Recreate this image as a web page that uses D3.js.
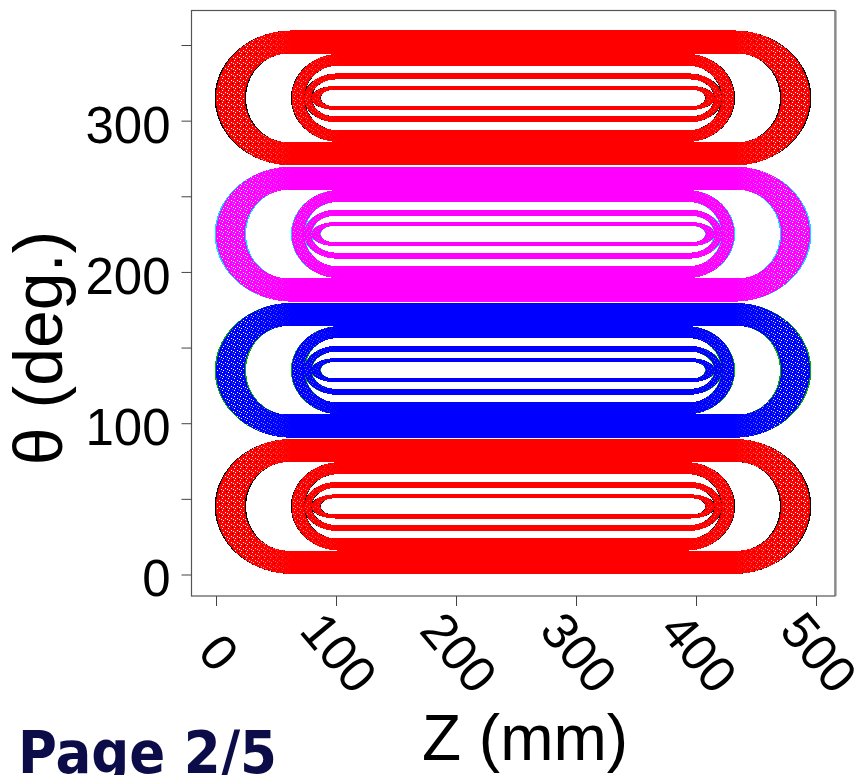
<!DOCTYPE html>
<html lang="en">
<head>
<meta charset="UTF-8" />
<title>Coil layout theta vs Z</title>
<script src="https://d3js.org/d3.v7.min.js"></script>
<style>
    body {
        margin: 0;
        background: #fff;
        overflow: hidden;
    }
    svg {
        display: block;
    }
    .coil path {
        shape-rendering: crispEdges;
    }
    .tick line {
        stroke: #444;
    }
    .tick text {
        font-family: "Liberation Sans", Arial, sans-serif;
        fill: #000;
    }
</style>
</head>
<body>
<script>
    // coils: centre angle, main colour and the colour that shows through at the ends
    const coilCenters = [45, 135, 225, 315];
    const coilColors = ['#ff0000', '#0000ff', '#ff00ff', '#ff0000'];
    const coilShades = ['#000000', '#00b000', '#00e0ff', '#000000'];

    // winding blocks of one coil (deg / mm)
    // each block: [outer edge, inner edge]
    const blockHalfWidth = [[44.6, 29.2], [29.2, 21.2], [16.2, 12.2], [8.0, 5.3]];
    const blockStraightStart = [[63, 60], [103, 101], [101, 100], [100, 98]];
    const blockTipZ = [[0, 24], [63, 73.5], [73.5, 79.5], [79.5, 87]];
    const blockShadeOffset = [1.1, 0.6, 0.5, 0.5];
    const coilMidZ = 247.5;

    const zTicks = [0, 100, 200, 300, 400, 500];
    const thetaTicks = [0, 50, 100, 150, 200, 250, 300, 350];

    const width = 863, height = 775;
    const frame = { left: 191.5, top: 10.5, right: 835, bottom: 596 };

    const svg = d3.select('body').append('svg').attr('width', width).attr('height', height);

    const x = d3.scaleLinear().domain([0, 500]).range([216, 816]);
    const y = d3.scaleLinear().domain([0, 350]).range([574.5, 45]);

    const line = d3.line().x(d => x(d[0])).y(d => y(d[1]));

    // one racetrack turn: straight sides at tc +- h, elliptic ends out to the tip
    function racetrack(tc, h, zs, tip) {
        const ze = 2 * coilMidZ - zs;
        const tipR = 2 * coilMidZ - tip;
        const pts = [];
        const n = 60;
        pts.push([zs, tc + h]);
        for (let i = 0; i <= n; i++) {
            const t = Math.PI * i / n;
            pts.push([ze + (tipR - ze) * Math.sin(t), tc + h * Math.cos(t)]);
        }
        pts.push([zs, tc - h]);
        for (let i = 0; i <= n; i++) {
            const t = Math.PI * i / n;
            pts.push([zs - (zs - tip) * Math.sin(t), tc - h * Math.cos(t)]);
        }
        return line(pts) + 'Z';
    }

    function blockPath(tc, b, grow) {
        const [hOut, hIn] = blockHalfWidth[b];
        const [sOut, sIn] = blockStraightStart[b];
        const [tOut, tIn] = blockTipZ[b];
        return racetrack(tc, hOut, sOut, tOut - grow) +
            racetrack(tc, hIn, sIn, tIn + grow);
    }

    const defs = svg.append('defs');

    // sparse stipple on the end turns (turns are not packed there)
    coilShades.forEach((shade, i) => {
        const p = defs.append('pattern')
            .attr('id', 'stip' + i)
            .attr('patternUnits', 'userSpaceOnUse')
            .attr('width', 6).attr('height', 6);
        [[0, 0], [3, 2], [1, 4], [5, 3]].forEach(d => {
            p.append('rect').attr('x', d[0]).attr('y', d[1]).attr('width', 1).attr('height', 1).attr('fill', '#fff');
        });
        [[4, 5]].forEach(d => {
            p.append('rect').attr('x', d[0]).attr('y', d[1]).attr('width', 1).attr('height', 1).attr('fill', shade);
        });
    });

    // end zones of each block, fading out toward the straight part
    blockStraightStart.forEach((s, j) => {
        const x0 = x(-25), x1 = x(s[0]);
        const x2 = x(2 * coilMidZ - s[0]), x3 = x(2 * coilMidZ + 25);
        [['L' + j, x0, x1, 'white', 'black'], ['R' + j, x2, x3, 'black', 'white']].forEach(gd => {
            const gr = defs.append('linearGradient')
                .attr('id', 'fade' + gd[0])
                .attr('gradientUnits', 'userSpaceOnUse')
                .attr('x1', gd[1]).attr('x2', gd[2]).attr('y1', 0).attr('y2', 0);
            gr.append('stop').attr('offset', gd[3] === 'white' ? 0.55 : 0).attr('stop-color', gd[3]);
            gr.append('stop').attr('offset', gd[3] === 'white' ? 1 : 0.45).attr('stop-color', gd[4]);
        });
        const m = defs.append('mask').attr('id', 'ends' + j)
            .attr('maskUnits', 'userSpaceOnUse')
            .attr('x', 0).attr('y', 0).attr('width', width).attr('height', height);
        m.append('rect').attr('x', x0).attr('y', 0).attr('width', x1 - x0).attr('height', height)
            .attr('fill', `url(#fadeL${j})`);
        m.append('rect').attr('x', x2).attr('y', 0).attr('width', x3 - x2).attr('height', height)
            .attr('fill', `url(#fadeR${j})`);
    });

    const plot = svg.append('g');

    coilCenters.forEach((tc, i) => {
        const g = plot.append('g').attr('class', 'coil');
        blockHalfWidth.forEach((b, j) => {
            g.append('path')
                .attr('d', blockPath(tc, j, blockShadeOffset[j]))
                .attr('fill', coilShades[i])
                .attr('fill-rule', 'evenodd');
        });
        blockHalfWidth.forEach((b, j) => {
            g.append('path')
                .attr('d', blockPath(tc, j, 0))
                .attr('fill', coilColors[i])
                .attr('fill-rule', 'evenodd');
        });
        blockHalfWidth.forEach((b, j) => {
            g.append('g').attr('mask', `url(#ends${j})`)
                .append('path')
                .attr('d', blockPath(tc, j, -1))
                .attr('fill', `url(#stip${i})`)
                .attr('fill-rule', 'evenodd');
        });
    });

    // frame
    svg.append('rect')
        .attr('x', frame.left).attr('y', frame.top)
        .attr('width', frame.right - frame.left)
        .attr('height', frame.bottom - frame.top)
        .attr('fill', 'none')
        .attr('stroke', '#555')
        .attr('stroke-width', 1.2);
    svg.append('line')
        .attr('x1', frame.right + 1).attr('x2', frame.right + 1)
        .attr('y1', frame.top).attr('y2', frame.bottom)
        .attr('stroke', '#777');

    // axes
    const yAxis = svg.append('g')
        .attr('transform', `translate(${frame.left},0)`)
        .call(d3.axisLeft(y)
            .tickValues(thetaTicks)
            .tickSize(10)
            .tickPadding(11)
            .tickFormat(d => d % 100 === 0 ? d : ''));
    yAxis.select('.domain').remove();
    yAxis.selectAll('.tick text')
        .attr('font-size', 51)
        .attr('dy', '0.42em');

    const xAxis = svg.append('g')
        .attr('transform', `translate(0,${frame.bottom})`)
        .call(d3.axisBottom(x)
            .tickValues(zTicks)
            .tickSize(10));
    xAxis.select('.domain').remove();
    xAxis.selectAll('.tick text')
        .attr('font-size', 51)
        .attr('y', 0)
        .attr('dy', '0.36em')
        .attr('text-anchor', 'middle')
        .attr('transform', 'translate(3,56) rotate(50)');

    // axis titles
    svg.append('text')
        .attr('transform', 'translate(62,348) rotate(-90)')
        .attr('text-anchor', 'middle')
        .attr('font-family', '"Liberation Sans", Arial, sans-serif')
        .attr('font-size', 68)
        .text('θ (deg.)');

    svg.append('text')
        .attr('x', 525).attr('y', 760)
        .attr('text-anchor', 'middle')
        .attr('font-family', '"Liberation Sans", Arial, sans-serif')
        .attr('font-size', 64)
        .text('Z (mm)');

    svg.append('text')
        .attr('transform', 'translate(18,773) scale(0.9,1)')
        .attr('font-family', '"DejaVu Sans", sans-serif')
        .attr('font-weight', 'bold')
        .attr('font-size', 59)
        .attr('fill', '#0c0c48')
        .text('Page 2/5');
</script>
</body>
</html>
